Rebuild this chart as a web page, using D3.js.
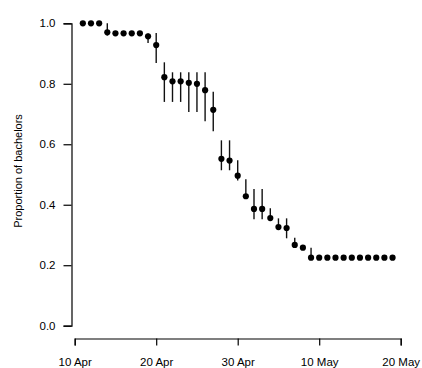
<!DOCTYPE html>
<html>
<head>
<meta charset="utf-8">
<script src="https://cdn.jsdelivr.net/npm/d3@7.9.0/dist/d3.min.js"></script>
<style>
  body { margin: 0; background: #fff; }
  svg text { font-family: "Liberation Sans", Arial, sans-serif; font-size: 11.5px; fill: #000; }
</style>
</head>
<body>
<svg width="422" height="368"></svg>
<script>
// observation dates
const dates = [
  '2000-04-11','2000-04-12','2000-04-13','2000-04-14','2000-04-15','2000-04-16','2000-04-17',
  '2000-04-18','2000-04-19','2000-04-20','2000-04-21','2000-04-22','2000-04-23','2000-04-24',
  '2000-04-25','2000-04-26','2000-04-27','2000-04-28','2000-04-29','2000-04-30','2000-05-01',
  '2000-05-02','2000-05-03','2000-05-04','2000-05-05','2000-05-06','2000-05-07','2000-05-08',
  '2000-05-09','2000-05-10','2000-05-11','2000-05-12','2000-05-13','2000-05-14','2000-05-15',
  '2000-05-16','2000-05-17','2000-05-18','2000-05-19'
];
// proportion of bachelors
const props = [
  1.0, 1.0, 1.0, 0.970, 0.967, 0.967, 0.967, 0.967, 0.957, 0.928,
  0.822, 0.808, 0.808, 0.803, 0.800, 0.779, 0.714, 0.552, 0.546, 0.496,
  0.428, 0.386, 0.386, 0.356, 0.326, 0.323, 0.267, 0.258, 0.225, 0.225,
  0.225, 0.225, 0.225, 0.225, 0.225, 0.225, 0.225, 0.225, 0.225
];
// confidence interval, lower and upper
const lower = [
  1.0, 1.0, 1.0, 0.960, 0.967, 0.967, 0.967, 0.967, 0.935, 0.869,
  0.740, 0.740, 0.740, 0.707, 0.707, 0.676, 0.643, 0.514, 0.514, 0.480,
  0.420, 0.352, 0.352, 0.350, 0.320, 0.289, 0.260, 0.258, 0.220, 0.225,
  0.225, 0.225, 0.225, 0.225, 0.225, 0.225, 0.225, 0.225, 0.225
];
const upper = [
  1.0, 1.0, 1.0, 1.0, 0.967, 0.967, 0.967, 0.967, 0.966, 0.968,
  0.871, 0.838, 0.838, 0.838, 0.838, 0.838, 0.774, 0.613, 0.613, 0.547,
  0.484, 0.452, 0.452, 0.388, 0.355, 0.355, 0.291, 0.258, 0.258, 0.225,
  0.225, 0.225, 0.225, 0.225, 0.225, 0.225, 0.225, 0.225, 0.225
];
const xTicks = ['2000-04-10','2000-04-20','2000-04-30','2000-05-10','2000-05-20'];
const yTicks = [0, 0.2, 0.4, 0.6, 0.8, 1.0];

const parse = d3.timeParse('%Y-%m-%d');
const data = dates.map((d, i) => ({ date: parse(d), p: props[i], lo: lower[i], hi: upper[i] }));

const svg = d3.select('svg');

const x = d3.scaleTime()
  .domain([parse('2000-04-10'), parse('2000-05-20')])
  .range([74.7, 400.7]);
const y = d3.scaleLinear().domain([0, 1]).range([325.7, 23.3]);

// axes, R style (detached)
svg.append('g')
  .attr('transform', 'translate(0,338.5)')
  .call(d3.axisBottom(x)
    .tickValues(xTicks.map(parse))
    .tickFormat(d3.timeFormat('%-d %b'))
    .tickSizeOuter(0).tickSize(7).tickPadding(12));

svg.append('g')
  .attr('transform', 'translate(71.5,0)')
  .call(d3.axisLeft(y)
    .tickValues(yTicks)
    .tickFormat(d3.format('.1f'))
    .tickSizeOuter(0).tickSize(8).tickPadding(8));

svg.selectAll('.domain, .tick line').attr('stroke', '#000').attr('stroke-width', 1.2);

svg.append('text')
  .attr('transform', 'translate(22,171) rotate(-90)')
  .attr('text-anchor', 'middle')
  .style('font-size', '11px')
  .text('Proportion of bachelors');

// error bars
svg.append('g').selectAll('line')
  .data(data.filter(d => d.hi > d.lo))
  .join('line')
  .attr('x1', d => x(d.date)).attr('x2', d => x(d.date))
  .attr('y1', d => y(d.hi)).attr('y2', d => y(d.lo))
  .attr('stroke', '#111').attr('stroke-width', 1.4);

// points
svg.append('g').selectAll('circle')
  .data(data)
  .join('circle')
  .attr('cx', d => x(d.date))
  .attr('cy', d => y(d.p))
  .attr('r', 3.1)
  .attr('fill', '#000');
</script>
</body>
</html>
